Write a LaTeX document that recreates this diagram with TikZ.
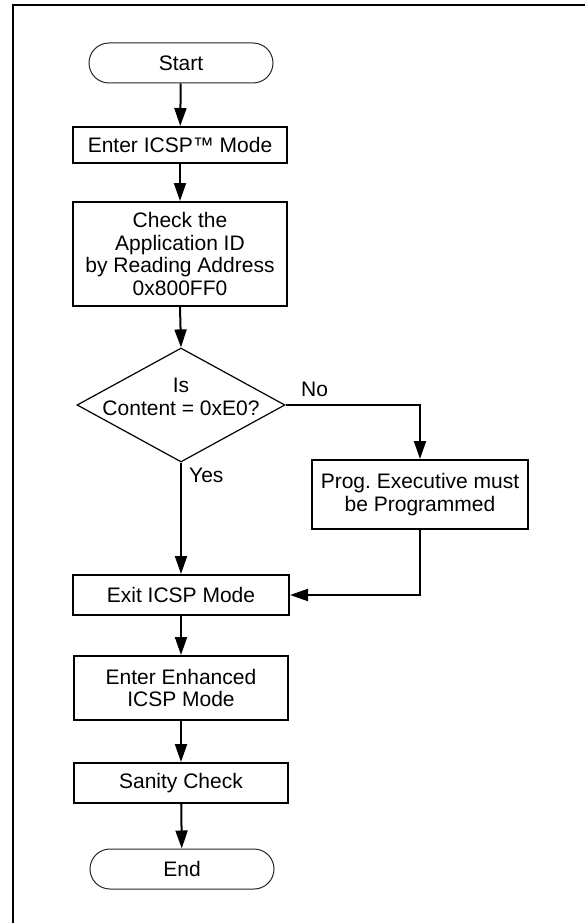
\documentclass[tikz,border=0pt]{standalone}
\usepackage{fontspec}
\setmainfont{Liberation Sans}
\usetikzlibrary{arrows.meta,shapes.geometric}
\frenchspacing
\begin{document}
\begin{tikzpicture}[x=1pt,y=-1pt,
  font=\fontsize{21}{22.6}\selectfont,
  term/.style={draw=black!85, line width=1pt, rounded corners=20pt, minimum width=184pt, minimum height=40pt, inner sep=0pt},
  stepbox/.style={draw, line width=2pt, minimum width=214pt, inner sep=0pt, align=center},
  conn/.style={line width=2pt, -{Triangle[length=18pt,width=12pt]}},
  lab/.style={inner sep=0pt, anchor=west}]
\useasboundingbox (0,0) rectangle (585,923);
\draw[line width=2pt] (585,5) -- (13,5) -- (13,923);
\node[term] (start) at (181,63) {Start};
\node[stepbox, minimum height=36pt] (icsp) at (180,145) {Enter ICSP™ Mode};
\node[stepbox, minimum height=104pt] (check) at (180,254) {Check the\\Application ID\\by Reading Address\\0x800FF0};
\node[diamond, draw, line width=1.2pt, minimum width=208pt, minimum height=114pt, inner sep=0pt] (dia) at (181,405) {};
\node[align=center, inner sep=0pt] (diatext) at (181,397) {Is\\Content = 0xE0?};
\node[stepbox, minimum width=216pt, minimum height=69pt] (prog) at (420,494.5) {Prog.\ Executive must\\be Programmed};
\node[stepbox, minimum width=216pt, minimum height=40pt] (exit) at (181,595) {Exit ICSP Mode};
\node[stepbox, minimum height=64pt] (enh) at (181,688) {Enter Enhanced\\ICSP Mode};
\node[stepbox, minimum height=40pt] (san) at (181,783) {Sanity Check};
\node[term] (end) at (182,869) {End};
\node[lab] (yes) at (189,475) {Yes};
\node[lab] (no) at (301,389) {No};
\draw[conn] (start) -- (icsp);
\draw[conn] (icsp) -- (check);
\draw[conn] (check.south) -- (dia.north);
\draw[conn] (dia.south) -- (exit.north);
\draw[conn] (dia.east) -| (prog.north);
\draw[conn] (prog.south) |- (exit.east);
\draw[conn] (exit) -- (enh);
\draw[conn] (enh) -- (san);
\draw[conn] (san) -- (end);
\end{tikzpicture}
\end{document}
